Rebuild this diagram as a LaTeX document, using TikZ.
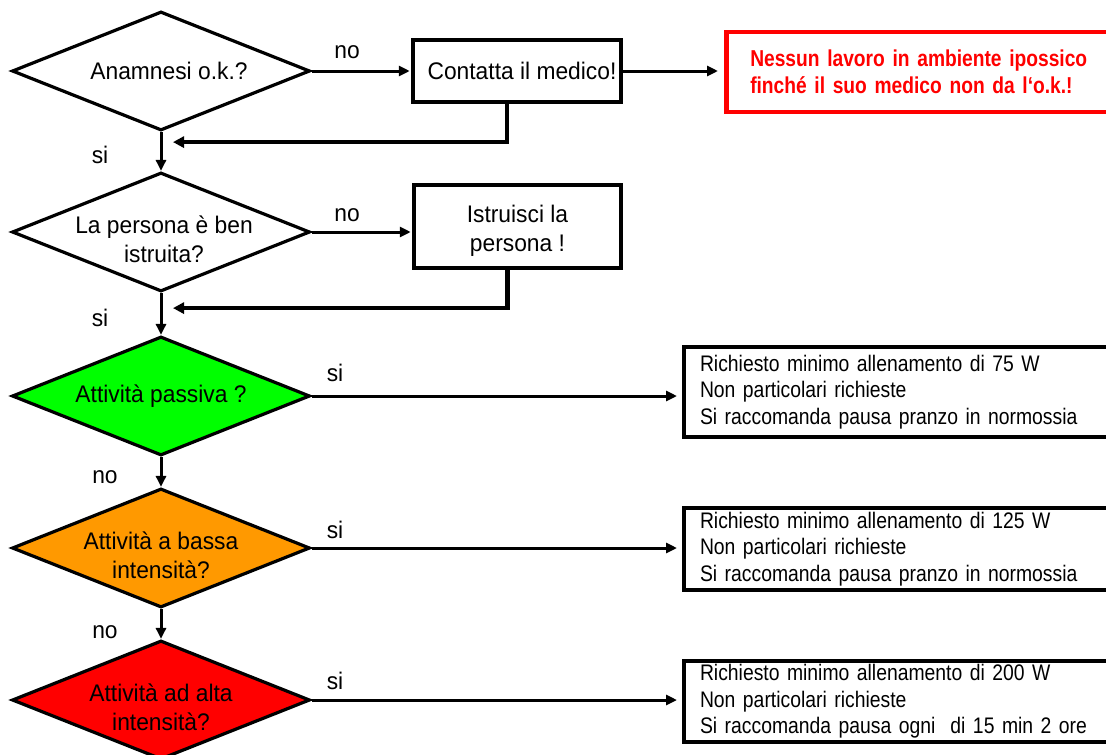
\documentclass[tikz,border=0pt]{standalone}
\usepackage{fontspec}
\setmainfont[FakeStretch=0.95]{Liberation Sans}
\newfontfamily\narrowfont[FakeStretch=0.86]{Liberation Sans}
\newfontfamily\narrowboldfont[FakeStretch=0.835]{Liberation Sans}
\usetikzlibrary{shapes.geometric,arrows.meta}
\definecolor{passgreen}{RGB}{0,255,0}
\definecolor{loworange}{RGB}{255,153,0}
\definecolor{highred}{RGB}{255,0,0}

\begin{document}
\begin{tikzpicture}[x=1pt,y=-1pt,
  every node/.style={font=\fontsize{24}{29}\selectfont},
  decision/.style={diamond, draw, line width=3.2pt, minimum width=298pt,
    minimum height=119pt, inner sep=0pt},
  dtext/.style={align=center, inner sep=0pt},
  action/.style={draw, line width=4.5pt, inner sep=0pt, align=center},
  note/.style={draw, line width=4pt, anchor=west, inner xsep=16pt,
    inner ysep=0pt, text width=430pt, align=left,
    font=\narrowfont\fontsize{22.5}{26.5}\selectfont},
  warn/.style={draw=highred, text=highred, line width=4.5pt, anchor=west,
    inner xsep=24pt, inner ysep=0pt, text width=420pt, align=left,
    font=\narrowboldfont\bfseries\fontsize{23}{27}\selectfont},
  flow/.style={line width=3pt, -{Triangle[length=11pt,width=10pt]}},
  back/.style={line width=4.5pt, -{Triangle[length=11pt,width=11pt]}},
  tag/.style={inner sep=0pt}
]
\clip (0,0) rectangle (1106,755);
\fill[white] (0,0) rectangle (1106,755);

% decisions
\node[decision, label={[dtext, name=t1, xshift=8pt]center:Anamnesi o.k.?}] (d1) at (161,71) {};
\node[decision, label={[dtext, name=t2, xshift=3pt, yshift=-7.5pt]center:{La persona è ben\\istruita?}}] (d2) at (161,232) {};
\node[decision, fill=passgreen, label={[dtext, name=t3]center:Attività passiva ?}] (d3) at (161,396) {};
\node[decision, fill=loworange, label={[dtext, name=t4, yshift=-7.5pt]center:{Attività a bassa\\intensità?}}] (d4) at (161,548) {};
\node[decision, fill=highred, label={[dtext, name=t5, yshift=-7.5pt]center:{Attività ad alta\\intensità?}}] (d5) at (161,700) {};

% actions
\node[action, minimum width=208pt, minimum height=62pt,
  label={[dtext, name=t7, xshift=5pt]center:Contatta il medico!}] (b1) at (517,71) {};
\node[action, minimum width=207pt, minimum height=83pt,
  label={[dtext, name=t6, yshift=-4.5pt]center:{Istruisci la\\persona !}}] (b2) at (517.5,226.5) {};

% warning
\node[warn, minimum height=80pt] (w) at (724,72)
  {Nessun lavoro in ambiente ipossico\\finché il suo medico non da l‘o.k.!};

% requirements
\node[note, minimum height=90pt] (n1) at (682,392)
  {Richiesto minimo allenamento di 75 W\\Non particolari richieste\\Si raccomanda pausa pranzo in normossia};
\node[note, minimum height=82pt] (n2) at (682,549)
  {Richiesto minimo allenamento di 125 W\\Non particolari richieste\\Si raccomanda pausa pranzo in normossia};
\node[note, minimum height=81pt] (n3) at (682,701.5)
  {Richiesto minimo allenamento di 200 W\\Non particolari richieste\\Si raccomanda pausa ogni\ \ di 15 min 2 ore};

% connectors
\draw[flow, shorten >=1pt] (d1.east) -- (d1.east -| b1.west);
\draw[flow, shorten >=6pt] (b1.east) -- (b1.east -| w.west);
\draw[back] ([xshift=-10pt]b1.south) |- ([xshift=12pt,yshift=-10pt]d1.south);
\draw[flow] (d1.south) -- (d2.north);
\draw[flow, shorten >=1pt] (d2.east) -- (d2.east -| b2.west);
\draw[back] ([xshift=-10pt]b2.south) |- ([xshift=12pt,yshift=-15pt]d2.south);
\draw[flow] (d2.south) -- (d3.north);
\draw[flow, shorten >=5pt] (d3.east) -- (d3.east -| n1.west);
\draw[flow] (d3.south) -- (d4.north);
\draw[flow, shorten >=5pt] (d4.east) -- (d4.east -| n2.west);
\draw[flow] (d4.south) -- (d5.north);
\draw[flow, shorten >=5pt] (d5.east) -- (d5.east -| n3.west);

% branch labels
\node[tag] (no1) at (347,52) {no};
\node[tag] (no2) at (347,215) {no};
\node[tag] (si1) at (100,155) {si};
\node[tag] (si2) at (100,318) {si};
\node[tag] (no3) at (105,477) {no};
\node[tag] (no4) at (105,632) {no};
\node[tag] (si3) at (335,373) {si};
\node[tag] (si4) at (335,530) {si};
\node[tag] (si5) at (335,681) {si};
\end{tikzpicture}
\end{document}
